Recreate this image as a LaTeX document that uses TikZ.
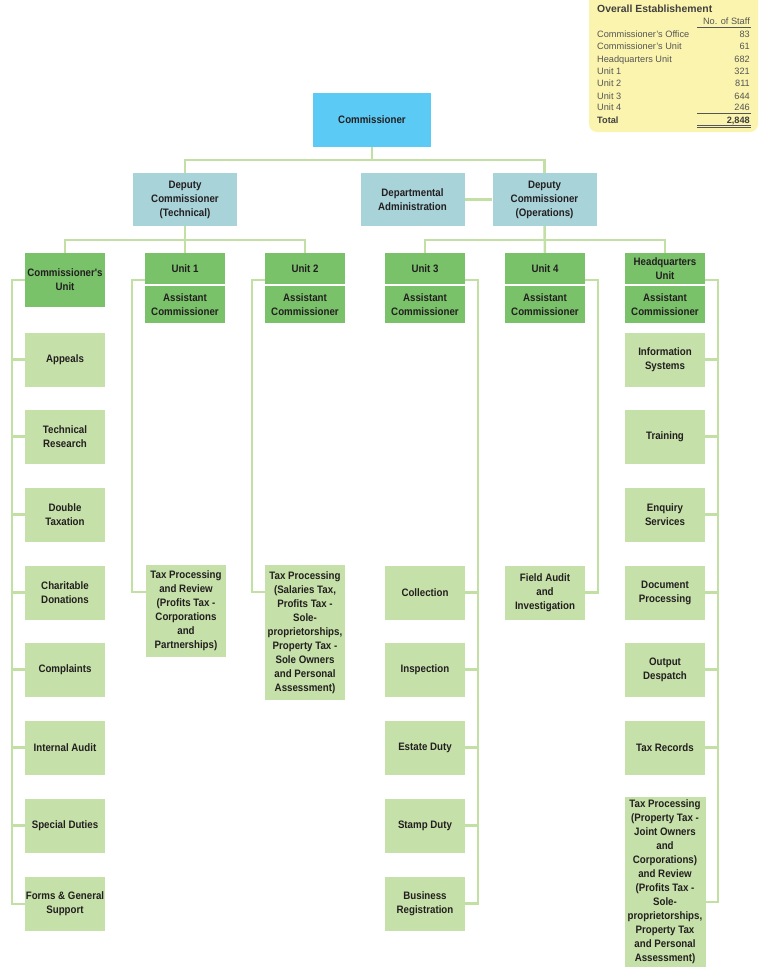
\documentclass[tikz,border=0pt]{standalone}
\usepackage{fontspec}
\setmainfont{Liberation Sans}
\newfontfamily\boxfont[FakeStretch=0.9]{Liberation Sans}
\definecolor{cblue}{HTML}{5BCBF5}
\definecolor{cteal}{HTML}{A7D3D9}
\definecolor{cgreen}{HTML}{79C26A}
\definecolor{clight}{HTML}{C5E0A8}
\definecolor{cline}{HTML}{C2DFA4}
\definecolor{txt}{HTML}{231F20}
\definecolor{tbg}{HTML}{FBF4AE}
\definecolor{ttxt}{HTML}{555555}
\definecolor{ttitle}{HTML}{404040}
\begin{document}
\begin{tikzpicture}[x=1pt,y=-1pt,
  base/.style={inner sep=0pt, align=center, text=txt,
    font=\boxfont\bfseries\fontsize{10.8}{14}\selectfont},
  commbox/.style={base, fill=cblue, minimum width=118pt, minimum height=54pt},
  depbox/.style={base, fill=cteal, minimum width=104pt, minimum height=53pt},
  unittop/.style={base, fill=cgreen, minimum width=80pt, minimum height=30.5pt},
  unitbot/.style={base, fill=cgreen, minimum width=80pt, minimum height=37.5pt},
  subbox/.style={base, fill=clight, minimum width=80pt, minimum height=54pt},
  link/.style={draw=cline, line width=2.5pt},
  tcell/.style={inner sep=0pt, text=ttxt, font=\fontsize{9.2}{11}\selectfont},
  tbold/.style={inner sep=0pt, text=ttitle, font=\bfseries\fontsize{9.2}{11}\selectfont},
  ttitlest/.style={inner sep=0pt, text=ttitle, font=\bfseries\fontsize{10.4}{12}\selectfont},
  tline/.style={draw=ttxt, line width=0.7pt}]
\useasboundingbox (0,0) rectangle (760,978);

% ---------- staff table ----------
\fill[tbg, rounded corners=8pt] (589,-10) rectangle (758,132);
\node[ttitlest, anchor=base west] (ttl) at (597,12) {Overall Establishement};
\node[tcell, anchor=base east] (thd) at (750,24.5) {No. of Staff};
\node[tcell, anchor=base west] (r1) at (597,37.5) {Commissioner's Office};
\node[tcell, anchor=base east] (n1) at (750,37.5) {83};
\node[tcell, anchor=base west] (r2) at (597,49.5) {Commissioner's Unit};
\node[tcell, anchor=base east] (n2) at (750,49.5) {61};
\node[tcell, anchor=base west] (r3) at (597,62) {Headquarters Unit};
\node[tcell, anchor=base east] (n3) at (750,62) {682};
\node[tcell, anchor=base west] (r4) at (597,74.5) {Unit 1};
\node[tcell, anchor=base east] (n4) at (750,74.5) {321};
\node[tcell, anchor=base west] (r5) at (597,86.5) {Unit 2};
\node[tcell, anchor=base east] (n5) at (750,86.5) {811};
\node[tcell, anchor=base west] (r6) at (597,99) {Unit 3};
\node[tcell, anchor=base east] (n6) at (750,99) {644};
\node[tcell, anchor=base west] (r7) at (597,110.5) {Unit 4};
\node[tcell, anchor=base east] (n7) at (750,110.5) {246};
\node[tbold, anchor=base west] (r8) at (597,123) {Total};
\node[tbold, anchor=base east] (n8) at (750,123) {2,848};
\draw[tline] (697,27) -- (751,27);
\draw[tline] (697,113) -- (751,113);
\draw[tline] (697,125) -- (751,125);
\draw[tline] (697,127.2) -- (751,127.2);

% ---------- top levels ----------
\node[commbox] (comm) at (372,120) {Commissioner};
\node[depbox] (dtech) at (185,199.5) {Deputy\\Commissioner\\(Technical)};
\node[depbox] (dadmin) at (412.5,199.5) {Departmental\\Administration};
\node[depbox] (dops) at (544.5,199.5) {Deputy\\Commissioner\\(Operations)};

% ---------- units ----------
\node[base, fill=cgreen, minimum width=80pt, minimum height=53.5pt] (cu) at (65,279.75) {Commissioner's\\Unit};
\node[unittop] (u1t) at (185,268.25) {Unit 1};
\node[unitbot] (u1b) at (185,304.25) {Assistant\\Commissioner};
\node[unittop] (u2t) at (305,268.25) {Unit 2};
\node[unitbot] (u2b) at (305,304.25) {Assistant\\Commissioner};
\node[unittop] (u3t) at (425,268.25) {Unit 3};
\node[unitbot] (u3b) at (425,304.25) {Assistant\\Commissioner};
\node[unittop] (u4t) at (545,268.25) {Unit 4};
\node[unitbot] (u4b) at (545,304.25) {Assistant\\Commissioner};
\node[unittop] (hqt) at (665,268.25) {Headquarters\\Unit};
\node[unitbot] (hqb) at (665,304.25) {Assistant\\Commissioner};

% ---------- commissioner's unit sections ----------
\node[subbox] (appeals) at (65,359.5) {Appeals};
\node[subbox] (techres) at (65,436.5) {Technical\\Research};
\node[subbox] (dbltax) at (65,514.5) {Double\\Taxation};
\node[subbox] (charity) at (65,592.5) {Charitable\\Donations};
\node[subbox] (complaints) at (65,669.5) {Complaints};
\node[subbox] (intaudit) at (65,747.5) {Internal Audit};
\node[subbox] (special) at (65,825.5) {Special Duties};
\node[subbox] (forms) at (65,904) {Forms \& General\\Support};

% ---------- unit 1 / unit 2 ----------
\node[base, fill=clight, minimum width=80pt, minimum height=92pt] (tpr) at (186,611)
  {Tax Processing\\and Review\\(Profits Tax -\\Corporations\\and\\Partnerships)};
\node[base, fill=clight, minimum width=80pt, minimum height=135pt] (tps) at (305,632.5)
  {Tax Processing\\(Salaries Tax,\\Profits Tax -\\Sole-\\proprietorships,\\Property Tax -\\Sole Owners\\and Personal\\Assessment)};

% ---------- unit 3 ----------
\node[subbox] (coll) at (425,592.5) {Collection};
\node[subbox] (insp) at (425,669.5) {Inspection};
\node[subbox] (estate) at (425,747.5) {Estate Duty};
\node[subbox] (stamp) at (425,825.5) {Stamp Duty};
\node[subbox] (busreg) at (425,903.5) {Business\\Registration};

% ---------- unit 4 ----------
\node[subbox] (fai) at (545,592.5) {Field Audit\\and\\Investigation};

% ---------- headquarters unit ----------
\node[subbox] (infosys) at (665,359.5) {Information\\Systems};
\node[subbox] (training) at (665,436.5) {Training};
\node[subbox] (enquiry) at (665,514.5) {Enquiry\\Services};
\node[subbox] (docproc) at (665,592.5) {Document\\Processing};
\node[subbox] (output) at (665,669.5) {Output\\Despatch};
\node[subbox] (taxrec) at (665,747.5) {Tax Records};
\node[base, fill=clight, minimum width=81pt, minimum height=170pt] (hqtp) at (665,882)
  {Tax Processing\\(Property Tax -\\Joint Owners\\and\\Corporations)\\and Review\\(Profits Tax -\\Sole-\\proprietorships,\\Property Tax\\and Personal\\Assessment)};

% ---------- connectors ----------
\coordinate (j0) at (372,160);
\draw[link] (comm.south) -- (j0);
\draw[link] (j0) -| (dtech.north);
\draw[link] (j0) -| (dops.north);
\draw[link] (dadmin.east) -- (dops.west);

\coordinate (j1) at (185,240);
\draw[link] (dtech.south) -- (u1t.north);
\draw[link] (j1) -| (cu.north);
\draw[link] (j1) -| (u2t.north);

\coordinate (j2) at (545,240);
\draw[link] (dops.south) -- (u4t.north);
\draw[link] (j2) -| (u3t.north);
\draw[link] (j2) -| (hqt.north);

% commissioner's unit spine
\coordinate (v0) at (12,280);
\draw[link] (cu.west) -- (cu.west -| v0) -- (v0 |- forms.west) -- (forms.west);
\foreach \n in {appeals,techres,dbltax,charity,complaints,intaudit,special}
  \draw[link] (\n.west) -- (\n.west -| v0);

% unit 1
\coordinate (v1) at (132,280);
\coordinate (v1e) at (132,592);
\draw[link] (v1 -| u1t.west) -- (v1) -- (v1e) -- (v1e -| tpr.west);

% unit 2
\coordinate (v2) at (252,280);
\coordinate (v2e) at (252,592);
\draw[link] (v2 -| u2t.west) -- (v2) -- (v2e) -- (v2e -| tps.west);

% unit 3
\coordinate (v3) at (478,280);
\draw[link] (v3 -| u3t.east) -- (v3) -- (v3 |- busreg.east) -- (busreg.east);
\foreach \n in {coll,insp,estate,stamp}
  \draw[link] (\n.east) -- (\n.east -| v3);

% unit 4
\coordinate (v4) at (598,280);
\draw[link] (v4 -| u4t.east) -- (v4) |- (fai.east);

% headquarters unit
\coordinate (v6) at (718,280);
\coordinate (v6e) at (718,902);
\draw[link] (v6 -| hqt.east) -- (v6) -- (v6e) -- (v6e -| hqtp.east);
\foreach \n in {infosys,training,enquiry,docproc,output,taxrec}
  \draw[link] (\n.east) -- (\n.east -| v6);
\end{tikzpicture}
\end{document}
